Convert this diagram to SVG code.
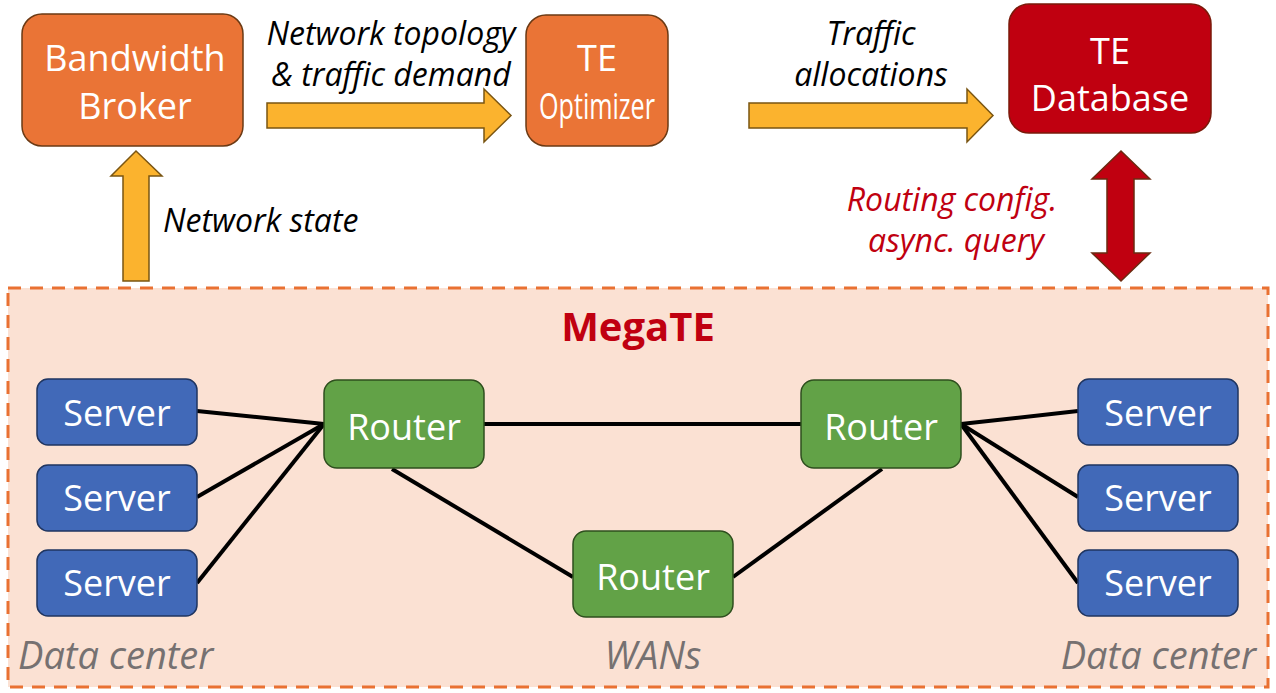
<svg xmlns="http://www.w3.org/2000/svg" width="1276" height="693" viewBox="0 0 1276 693">
<style>
.box{stroke:#6b3a14;stroke-width:1.5}
.orange{fill:#ea7436}
.red{fill:#c00010;stroke:#7a1a0a;stroke-width:1.5}
.server{fill:#4169b8;stroke:#1f3560;stroke-width:1.5}
.router{fill:#62a247;stroke:#2e4f1e;stroke-width:1.5}
.yarrow{fill:#fbb32e;stroke:#7a5512;stroke-width:1.5}
.rarrow{fill:#c00010;stroke:#6b2a10;stroke-width:1.5}
.wt{font-family:"Open Sans","Liberation Sans",sans-serif;fill:#ffffff;text-anchor:middle;font-size:36px}
.lbl{font-family:"Open Sans","Liberation Sans",sans-serif;font-style:italic;fill:#000;text-anchor:middle;font-size:32px}
.redlbl{fill:#c00010}
.gray{font-family:"Open Sans","Liberation Sans",sans-serif;font-style:italic;fill:#767171;font-size:38px}
.link{stroke:#000;stroke-width:4;fill:none}
</style>
<rect width="1276" height="693" fill="#ffffff"/>
<g id="megate">
<rect x="8" y="288" width="1260" height="399" fill="#fbe1d3" stroke="#e97132" stroke-width="3" stroke-dasharray="13,9"/>
<text x="638" y="341" text-anchor="middle" font-family="'Open Sans','Liberation Sans',sans-serif" font-weight="bold" font-size="40" fill="#c00010">MegaTE</text>
</g>
<g id="connectors">
<path class="yarrow" d="M267,103 H484 V89 L511,115.5 L484,142 V128 H267 Z"/>
<path class="yarrow" d="M749,103 H967 V89 L993,115.5 L967,142 V128 H749 Z"/>
<path class="yarrow" d="M123,281 V176 H111 L136,151 L162,176 H149 V281 Z"/>
<path class="rarrow" d="M1121,151 L1150,179 H1134 V253 H1150 L1121,281 L1092,253 H1107 V179 H1092 Z"/>
<line class="link" x1="197" y1="411" x2="324" y2="424"/>
<line class="link" x1="197" y1="497" x2="324" y2="424"/>
<line class="link" x1="197" y1="583" x2="324" y2="424"/>
<line class="link" x1="484" y1="424" x2="801" y2="424"/>
<line class="link" x1="392" y1="469" x2="573" y2="577"/>
<line class="link" x1="733" y1="577" x2="882" y2="469"/>
<line class="link" x1="961" y1="424" x2="1078" y2="411"/>
<line class="link" x1="961" y1="424" x2="1078" y2="497"/>
<line class="link" x1="961" y1="424" x2="1078" y2="583"/>
</g>
<g id="labels">
<text class="lbl" x="391" y="45">Network topology</text>
<text class="lbl" x="391" y="86">&amp; traffic demand</text>
<text class="lbl" x="871" y="45">Traffic</text>
<text class="lbl" x="871" y="86">allocations</text>
<text class="lbl" x="163" y="232" text-anchor="start" style="text-anchor:start">Network state</text>
<text class="lbl redlbl" x="952" y="211">Routing config.</text>
<text class="lbl redlbl" x="956" y="252">async. query</text>
<text class="gray" x="18" y="669">Data center</text>
<text class="gray" x="653" y="669" text-anchor="middle">WANs</text>
<text class="gray" x="1256" y="669" text-anchor="end">Data center</text>
</g>
<g id="bandwidth-broker">
<rect class="box orange" x="22" y="14" width="221" height="132" rx="20"/>
<text class="wt" x="135" y="71">Bandwidth</text>
<text class="wt" x="135" y="119">Broker</text>
</g>
<g id="te-optimizer">
<rect class="box orange" x="526" y="15" width="142" height="131" rx="20"/>
<text class="wt" x="597" y="71">TE</text>
<text class="wt" x="597" y="119" textLength="116" lengthAdjust="spacingAndGlyphs">Optimizer</text>
</g>
<g id="te-database">
<rect class="red" x="1009" y="4" width="202" height="129" rx="20"/>
<text class="wt" x="1110" y="64">TE</text>
<text class="wt" x="1110" y="111">Database</text>
</g>
<g id="server-l1"><rect class="server" x="37" y="379" width="160" height="66" rx="11"/><text class="wt" x="117" y="426">Server</text></g>
<g id="server-l2"><rect class="server" x="37" y="465" width="160" height="66" rx="11"/><text class="wt" x="117" y="511">Server</text></g>
<g id="server-l3"><rect class="server" x="37" y="550" width="160" height="66" rx="11"/><text class="wt" x="117" y="596">Server</text></g>
<g id="router-left"><rect class="router" x="324" y="380" width="160" height="88" rx="13"/><text class="wt" x="404" y="440">Router</text></g>
<g id="router-right"><rect class="router" x="801" y="380" width="160" height="88" rx="13"/><text class="wt" x="881" y="440">Router</text></g>
<g id="router-bottom"><rect class="router" x="573" y="531" width="160" height="86" rx="13"/><text class="wt" x="653" y="590">Router</text></g>
<g id="server-r1"><rect class="server" x="1078" y="379" width="160" height="66" rx="11"/><text class="wt" x="1158" y="426">Server</text></g>
<g id="server-r2"><rect class="server" x="1078" y="465" width="160" height="66" rx="11"/><text class="wt" x="1158" y="511">Server</text></g>
<g id="server-r3"><rect class="server" x="1078" y="550" width="160" height="66" rx="11"/><text class="wt" x="1158" y="596">Server</text></g>
</svg>
